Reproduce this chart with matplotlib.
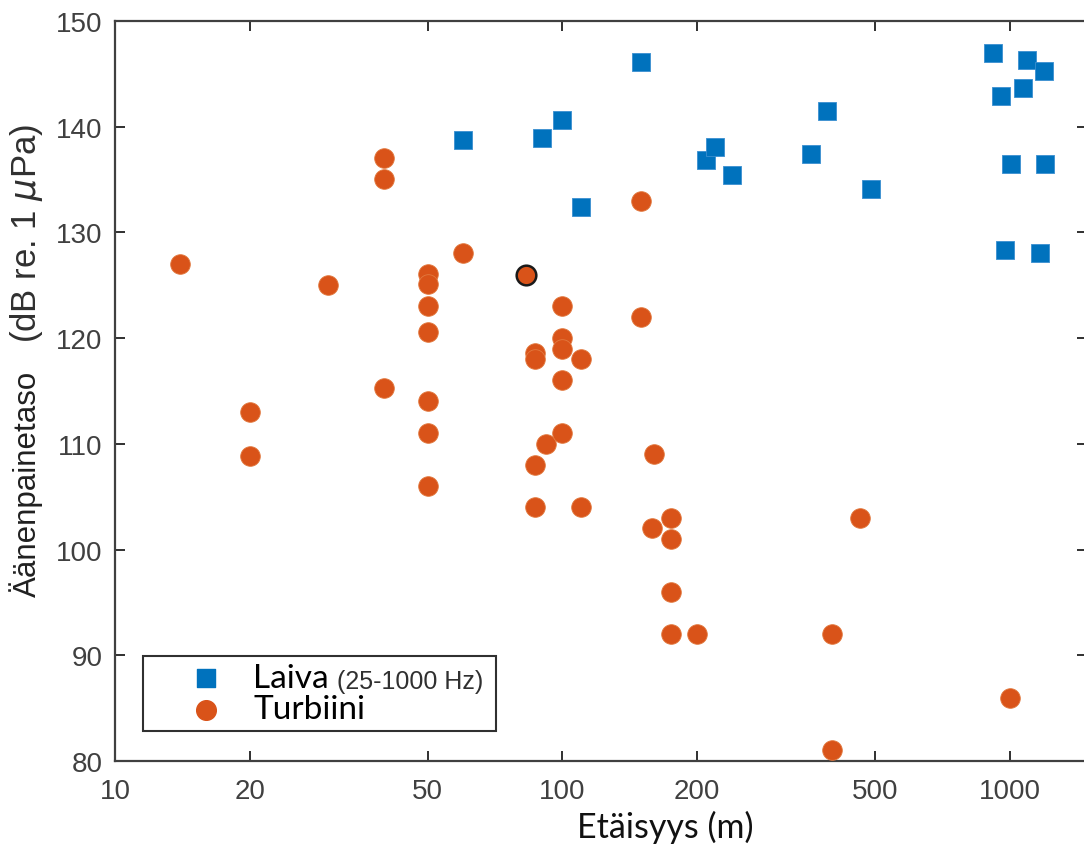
import matplotlib
matplotlib.use("Agg")
import matplotlib.pyplot as plt

# ----------------------
# Data (luettu kuvasta)
# ----------------------
laiva_x = [60, 90, 100, 110, 150, 210, 219, 239, 359, 390, 489,
           916, 1092, 1191, 1069, 959, 1009, 1197, 979, 1167]
laiva_y = [138.7, 138.9, 140.6, 132.4, 146.1, 136.8, 138.1, 135.4, 137.4, 141.5, 134.1,
           147.0, 146.3, 145.3, 143.6, 142.9, 136.5, 136.5, 128.3, 128.0]

turbiini_x = [14, 20, 20, 30, 40, 40, 40,
              50, 50, 50, 50, 50, 50, 50, 60,
              87, 87, 87, 87, 92,
              100, 100, 100, 100, 100, 110, 110,
              150, 150, 160, 159, 175, 175, 175, 175, 200,
              400, 400, 462, 1000]
turbiini_y = [127, 113, 108.8, 125, 137, 135, 115.3,
              126.1, 125.1, 123, 120.6, 114, 111, 106, 128,
              118.6, 118, 108, 104, 110,
              123, 120, 119, 116, 111, 118, 104,
              133, 122, 109, 102, 103, 101, 96, 92, 92,
              92, 81, 103, 86]

# korostettu mittaus (musta reuna)
korostus_x = [83]
korostus_y = [126]

x_ticks = [10, 20, 50, 100, 200, 500, 1000]
y_ticks = [80, 90, 100, 110, 120, 130, 140, 150]

sininen = "#0072BD"
oranssi = "#D95319"

# ----------------------
# Kuva
# ----------------------
fig = plt.figure(figsize=(10.84, 8.45), dpi=100)
ax = fig.add_axes([0.1061, 0.0982, 0.8967, 0.876])

ax.scatter(laiva_x, laiva_y, marker="s", s=150, color=sininen,
           edgecolors="#3a8fd0", linewidths=0.6, zorder=3)
ax.scatter(turbiini_x, turbiini_y, marker="o", s=200, color=oranssi,
           edgecolors="#e27a40", linewidths=0.6, zorder=3)
ax.scatter(korostus_x, korostus_y, marker="o", s=200, color=oranssi,
           edgecolors="#1a1a1a", linewidths=1.8, zorder=4)

ax.set_xscale("log")
ax.set_xlim(10, 1490)
ax.set_ylim(80, 150)
ax.set_xticks(x_ticks)
ax.set_xticklabels([str(t) for t in x_ticks])
ax.set_yticks(y_ticks)
ax.minorticks_off()

for sp in ax.spines.values():
    sp.set_linewidth(1.6)
    sp.set_color("#404040")

ax.tick_params(axis="both", which="major", direction="in", length=7, width=1.4,
               color="#303030", labelsize=20, labelcolor="#404040",
               top=True, right=True)
ax.tick_params(axis="x", pad=12)
ax.tick_params(axis="y", pad=9)
for lab in ax.get_xticklabels() + ax.get_yticklabels():
    lab.set_family("Liberation Sans")

# akselien otsikot
fig.text(0.024, (845 - 597) / 845, "Äänenpainetaso", rotation=90,
         ha="center", va="bottom", fontsize=22.5, color="#202020",
         family="Liberation Sans")
fig.text(0.024, (845 - 343) / 845, "(dB re. 1 $\\mu$Pa)", rotation=90,
         ha="center", va="bottom", fontsize=25, color="#303030",
         family="Liberation Sans")
fig.text(665 / 1084, 7 / 845, "Etäisyys (m)", ha="center", va="baseline",
         fontsize=24.5, family="Lato", color="#111111")

# selite
h1 = ax.scatter([], [], marker="s", s=150, color=sininen)
h2 = ax.scatter([], [], marker="o", s=200, color=oranssi)
leg = ax.legend([h1, h2], ["Laiva", "Turbiini"], loc="lower left",
                bbox_to_anchor=(0.0288, 0.0405, 0.363, 0.1), mode="expand",
                prop={"family": "Lato", "size": 24}, frameon=True,
                fancybox=False, framealpha=1, edgecolor="#303030",
                borderpad=0.2, labelspacing=0.05, handletextpad=-0.3,
                borderaxespad=0, handlelength=3.4)
leg.get_frame().set_linewidth(1.5)
ax.annotate("(25-1000 Hz)", xy=(1, 0), xycoords=leg.get_texts()[0],
            xytext=(6, 0), textcoords="offset points", va="bottom",
            ha="left", fontsize=18, color="#303030", family="Liberation Sans",
            zorder=10)

fig.savefig("out.png", dpi=100)
